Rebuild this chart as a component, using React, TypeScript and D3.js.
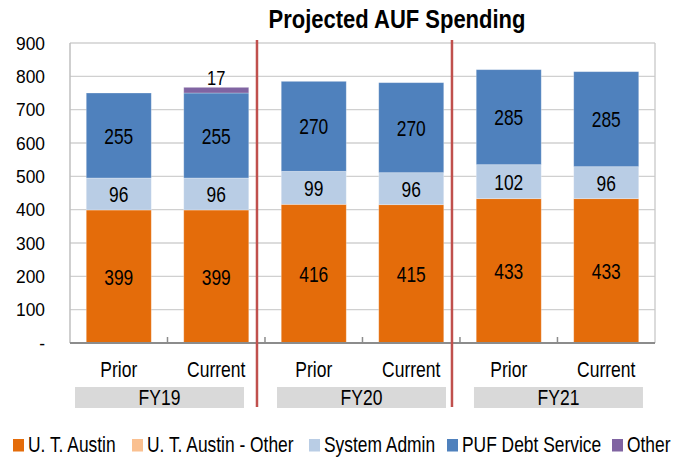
import React from "react";
import * as d3 from "d3";

const categories = ["Prior", "Current", "Prior", "Current", "Prior", "Current"];
const groups = ["FY19", "FY20", "FY21"];
const seriesNames = ["U. T. Austin", "U. T. Austin - Other", "System Admin", "PUF Debt Service", "Other"];
const utAustin = [399, 399, 416, 415, 433, 433];
const utAustinOther = [0, 0, 0, 0, 0, 0];
const systemAdmin = [96, 96, 99, 96, 102, 96];
const pufDebt = [255, 255, 270, 270, 285, 285];
const other = [0, 17, 0, 0, 0, 0];
const yTicks = [0, 100, 200, 300, 400, 500, 600, 700, 800, 900];

const colors = ["#E46C0A", "#FAC090", "#B9CDE5", "#4F81BD", "#8064A2"];
const W = 673, H = 457;
const plot = { left: 70, right: 655, top: 43, bottom: 343 };
const FONT = "'Liberation Sans', Arial, sans-serif";
const legendX = [13, 132, 309, 447, 612];
const groupBoxShift = [-8, -1, 1];

function T(props: any) {
  const { x, y, children, size = 17, anchor = "middle", weight = "normal", sy = 1.15, ...rest } = props;
  return (
    <text
      transform={`translate(${x},${y}) scale(1,${sy})`}
      fontSize={size}
      fontFamily={FONT}
      textAnchor={anchor}
      fontWeight={weight}
      fill="#000"
      {...rest}
    >
      {children}
    </text>
  );
}

export default function App() {
  const series = [utAustin, utAustinOther, systemAdmin, pufDebt, other];
  const idx = categories.map((_, i) => i);
  const x = d3.scaleBand<number>().domain(idx).range([plot.left, plot.right]).paddingInner(0.333).paddingOuter(0.1667);
  const y = d3.scaleLinear().domain([0, 900]).range([plot.bottom, plot.top]);
  const rows = idx.map((i) => {
    const r: any = { i };
    series.forEach((s, k) => (r["s" + k] = s[i]));
    return r;
  });
  const stack = d3.stack<any>().keys(series.map((_, k) => "s" + k))(rows);
  const step = x.step();
  const boundary = (i: number) => plot.left + i * step;

  return (
    <svg width={W} height={H} style={{ position: "absolute", left: 0, top: 0, background: "#fff" }}>
      {yTicks.map((t) => (
        <line key={"g" + t} x1={plot.left} x2={plot.right} y1={y(t)} y2={y(t)} stroke="#d0d0d0" strokeWidth={1.3} />
      ))}
      <line x1={plot.left} x2={plot.left} y1={plot.top} y2={plot.bottom} stroke="#bfbfbf" strokeWidth={1.5} />
      <line x1={plot.right} x2={plot.right} y1={plot.top} y2={plot.bottom} stroke="#c8c8c8" strokeWidth={1.3} />
      {stack.map((layer, k) =>
        layer.map((d, i) =>
          d[1] - d[0] > 0 ? (
            <rect
              key={k + "-" + i}
              x={x(i)}
              width={x.bandwidth()}
              y={y(d[1])}
              height={y(d[0]) - y(d[1])}
              fill={colors[k]}
              stroke="#ffffff"
              strokeOpacity={0.35}
              strokeWidth={0.8}
            />
          ) : null
        )
      )}
      <line x1={plot.left} x2={plot.right} y1={plot.bottom} y2={plot.bottom} stroke="#8c8c8c" strokeWidth={2} />
      {idx.slice(1).map((i) => (
        <line key={"t" + i} x1={boundary(i)} x2={boundary(i)} y1={plot.bottom} y2={plot.bottom - 6} stroke="#8c8c8c" strokeWidth={1.5} />
      ))}
      {yTicks.map((t) => (
        <T key={"y" + t} x={45} y={y(t) + 6.5} anchor="end" size={17.4} sy={1.1}>
          {t === 0 ? "-" : d3.format("d")(t)}
        </T>
      ))}
      {stack.map((layer, k) =>
        layer.map((d, i) => {
          const v = d[1] - d[0];
          if (v <= 0) return null;
          if (k === 4) {
            return (
              <T key={"l" + k + i} x={x(i)! + x.bandwidth() / 2} y={y(d[1]) - 2} size={16.5} sy={1.25}>
                {v}
              </T>
            );
          }
          return (
            <T key={"l" + k + i} x={x(i)! + x.bandwidth() / 2} y={(y(d[0]) + y(d[1])) / 2 + 8} size={17.4} sy={1.3}>
              {v}
            </T>
          );
        })
      )}
      {categories.map((c, i) => (
        <T key={"c" + i} x={x(i)! + x.bandwidth() / 2} y={377} size={17.5} sy={1.22}>
          {c}
        </T>
      ))}
      {groups.map((g, j) => {
        const cx = boundary(j * 2 + 1) + groupBoxShift[j];
        return (
          <g key={g}>
            <rect x={cx - 84.5} y={387} width={169} height={21} fill="#D9D9D9" />
            <T x={cx} y={405} size={17.5} sy={1.22}>
              {g}
            </T>
          </g>
        );
      })}
      {[2, 4].map((i) => (
        <line key={"s" + i} x1={boundary(i) - 8} x2={boundary(i) - 8} y1={40} y2={407} stroke="#C0504D" strokeWidth={2.5} />
      ))}
      <T x={397} y={28} size={22} weight="bold" sy={1.15}>
        Projected AUF Spending
      </T>
      {seriesNames.map((n, k) => (
        <g key={n}>
          <rect x={legendX[k]} y={439} width={11} height={12.5} fill={colors[k]} />
          <T x={legendX[k] + 15} y={452} anchor="start" size={17.4} sy={1.22}>
            {n}
          </T>
        </g>
      ))}
    </svg>
  );
}
